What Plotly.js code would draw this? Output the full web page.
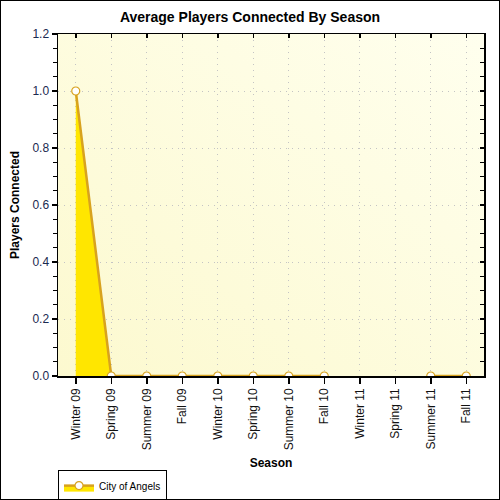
<!DOCTYPE html>
<html>
<head>
<meta charset="utf-8">
<script src="https://cdn.plot.ly/plotly-3.0.1.min.js"></script>
<style>
html,body{margin:0;padding:0;background:#fff;}
#frame{width:500px;height:500px;box-sizing:border-box;border:1px solid #000;overflow:hidden;}
#chart{width:498px;height:498px;}
</style>
</head>
<body>
<div id="frame"><div id="chart"></div></div>
<script>
var seasons = ["Winter 09","Spring 09","Summer 09","Fall 09","Winter 10","Spring 10","Summer 10","Fall 10","Winter 11","Spring 11","Summer 11","Fall 11"];
var players = [1.0, 0, 0, 0, 0, 0, 0, 0, null, null, 0, 0];
var seriesName = "City of Angels";

var font = "Liberation Sans, Arial, sans-serif";
var gradSvg = '<svg xmlns="http://www.w3.org/2000/svg" width="100" height="100"><defs><linearGradient id="g" x1="0" y1="1" x2="1" y2="0"><stop offset="0" stop-color="#fcf9cf"/><stop offset="1" stop-color="#ffffee"/></linearGradient></defs><rect width="100" height="100" fill="url(#g)"/></svg>';

var trace = {
  x: seasons, y: players, name: seriesName,
  type: "scatter", mode: "lines+markers",
  fill: "tozeroy", fillcolor: "#ffe600",
  connectgaps: false,
  line: {color: "#d8a21e", width: 2.5},
  marker: {symbol: "circle", size: 8, color: "#ffffff", line: {color: "#d8a21e", width: 1.2}}
};
var dummy = {x: seasons, y: players.map(function(v){return null;}), xaxis: "x2", yaxis: "y2", showlegend: false, hoverinfo: "skip", type: "scatter", mode: "lines"};

var layout = {
  width: 498, height: 498,
  margin: {l: 57, r: 15, t: 33, b: 123},
  paper_bgcolor: "#ffffff",
  plot_bgcolor: "rgba(0,0,0,0)",
  font: {family: font, size: 12, color: "#000"},
  title: {text: "<b>Average Players Connected By Season</b>", x: 0.5, xref: "container", y: 0.968, yref: "container", yanchor: "middle", font: {size: 14, color: "#000", family: font}},
  showlegend: true,
  legend: {x: 0.1145, xref: "container", xanchor: "left", y: 0.058, yref: "container", yanchor: "top", orientation: "h", bordercolor: "#000", borderwidth: 1, bgcolor: "#fff", font: {size: 10, family: font}, itemwidth: 30},
  xaxis: {
    type: "category", range: [-0.5, 11.5], categoryorder: "array", categoryarray: seasons,
    automargin: false,
    showline: true, linecolor: "#000", linewidth: 1.5,
    ticks: "outside", ticklen: 6, tickcolor: "#000", tickwidth: 1.5,
    tickangle: -90, tickfont: {size: 12, color: "#111"},
    showgrid: true, gridcolor: "#c4c4c4", griddash: "1px,5px", gridwidth: 1,
    zeroline: false,
    title: {text: "<b>Season</b>", font: {size: 12}, standoff: 16}
  },
  xaxis2: {
    type: "category", range: [-0.5, 11.5], categoryorder: "array", categoryarray: seasons,
    automargin: false,
    overlaying: "x", side: "top", showline: true, linecolor: "#000", linewidth: 1.5,
    ticks: "inside", ticklen: 4, tickcolor: "#000", tickwidth: 1.5,
    showticklabels: false, showgrid: false, zeroline: false
  },
  yaxis: {
    range: [0, 1.2], dtick: 0.2, tick0: 0, tickformat: ".1f",
    automargin: false,
    showline: true, linecolor: "#000", linewidth: 1.5,
    ticks: "outside", ticklen: 5, tickcolor: "#000", tickwidth: 1.5,
    minor: {dtick: 0.05, ticks: "outside", ticklen: 4, tickcolor: "#000", tickwidth: 1.2, showgrid: false},
    tickfont: {size: 12, color: "#1a2a50"},
    showgrid: true, gridcolor: "#c4c4c4", griddash: "1px,5px", gridwidth: 1,
    zeroline: false,
    title: {text: "<b>Players Connected</b>", font: {size: 12}, standoff: 10}
  },
  yaxis2: {
    range: [0, 1.2], dtick: 0.2, tick0: 0, overlaying: "y", side: "right", anchor: "x",
    automargin: false,
    showline: true, linecolor: "#000", linewidth: 1.5,
    ticks: "inside", ticklen: 4, tickcolor: "#000", tickwidth: 1.5,
    minor: {dtick: 0.05, ticks: "inside", ticklen: 4, tickcolor: "#000", tickwidth: 1.2, showgrid: false},
    showticklabels: false, showgrid: false, zeroline: false
  },
  images: [{
    source: "data:image/svg+xml;charset=utf-8," + encodeURIComponent(gradSvg),
    xref: "paper", yref: "paper", x: 0, y: 1, sizex: 1, sizey: 1,
    sizing: "stretch", layer: "below", xanchor: "left", yanchor: "top"
  }]
};

Plotly.newPlot("chart", [trace, dummy], layout, {displayModeBar: false, staticPlot: true});
</script>
</body>
</html>
